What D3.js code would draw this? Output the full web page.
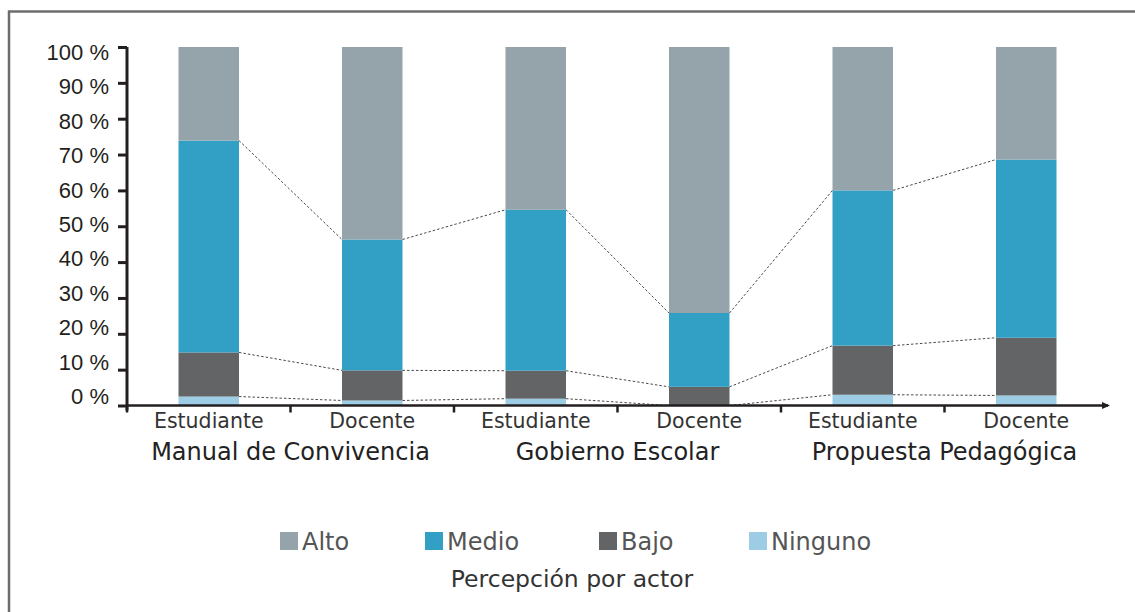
<!DOCTYPE html>
<html>
<head>
<meta charset="utf-8">
<script src="https://cdn.jsdelivr.net/npm/d3@7"></script>
<style>
  body { margin: 0; background: #fff; }
  svg { display: block; font-family: "DejaVu Sans", sans-serif; }
</style>
</head>
<body>
<svg width="1135" height="612"></svg>
<script>
"use strict";

// data (percent per segment, bottom to top)
var groups = ["Manual de Convivencia", "Gobierno Escolar", "Propuesta Pedagógica"];
var actors = ["Estudiante", "Docente"];
var series = ["Ninguno", "Bajo", "Medio", "Alto"];
var ninguno = [2.5, 1.4, 1.9, 0, 3.0, 2.8];
var bajo = [12.3, 8.4, 7.8, 5.2, 13.7, 16.1];
var medio = [59.1, 36.5, 44.9, 20.6, 43.3, 49.7];
var alto = [26.1, 53.7, 45.4, 74.2, 40.0, 31.4];
var yTicks = [0, 10, 20, 30, 40, 50, 60, 70, 80, 90, 100];
var legendOrder = ["Alto", "Medio", "Bajo", "Ninguno"];
var colors = { Alto: "#95a3aa", Medio: "#329fc4", Bajo: "#636466", Ninguno: "#9ccde4" };

var svg = d3.select("svg");

// frame
svg.append("path")
  .attr("d", "M9,620 V11.5 H1140")
  .attr("fill", "none")
  .attr("stroke", "#6d6d6d")
  .attr("stroke-width", 2.5);

var margin = { left: 127, right: 1108, top: 47, bottom: 405.5 };

var bars = [];
groups.forEach(function (g, gi) {
  actors.forEach(function (a, ai) {
    var i = gi * 2 + ai;
    bars.push({ key: g + "|" + a, group: g, actor: a,
      Ninguno: ninguno[i], Bajo: bajo[i], Medio: medio[i], Alto: alto[i] });
  });
});

var x = d3.scaleBand()
  .domain(bars.map(function (d) { return d.key; }))
  .range([margin.left, margin.right])
  .paddingInner(0.63)
  .paddingOuter(0.315);

var y = d3.scaleLinear()
  .domain([0, 100])
  .range([margin.bottom, margin.top]);

// the tick labels sit a little tighter than the ticks themselves
var yLabel = d3.scaleLinear()
  .domain([0, 100])
  .range([margin.bottom - 9.5, margin.top + 5]);

var stacked = d3.stack().keys(series)(bars);

// bars
svg.append("g")
  .selectAll("g")
  .data(stacked)
  .enter().append("g")
  .attr("fill", function (d) { return colors[d.key]; })
  .selectAll("rect")
  .data(function (d) { return d; })
  .enter().append("rect")
  .attr("x", function (d) { return x(d.data.key); })
  .attr("width", x.bandwidth())
  .attr("y", function (d) { return y(d[1]); })
  .attr("height", function (d) { return y(d[0]) - y(d[1]); });

// dashed series lines between bars
var links = [];
stacked.slice(0, 3).forEach(function (s) {
  for (var i = 0; i < s.length - 1; i++) {
    links.push({ a: s[i], b: s[i + 1] });
  }
});
svg.append("g")
  .selectAll("line")
  .data(links)
  .enter().append("line")
  .attr("x1", function (d) { return x(d.a.data.key) + x.bandwidth(); })
  .attr("x2", function (d) { return x(d.b.data.key); })
  .attr("y1", function (d) { return y(d.a[1]); })
  .attr("y2", function (d) { return y(d.b[1]); })
  .attr("stroke", "#4a4a4a")
  .attr("stroke-width", 1)
  .attr("stroke-dasharray", "2.5,2");

// y axis
var yAxis = svg.append("g")
  .attr("transform", "translate(" + margin.left + ",0)")
  .call(d3.axisLeft(y).tickValues(yTicks).tickSize(9).tickPadding(9)
    .tickFormat(function (d) { return d + " %"; }));
yAxis.select(".domain")
  .attr("d", "M0," + (margin.bottom + 5) + "V" + margin.top)
  .attr("stroke", "#231f20").attr("stroke-width", 3);
yAxis.selectAll(".tick line").attr("stroke", "#231f20").attr("stroke-width", 3);
yAxis.selectAll(".tick text")
  .attr("fill", "#231f20")
  .style("font-size", "22px")
  .attr("dy", function (d) { return (yLabel(d) - y(d)) + 7.5; });

// x axis with separators below
var xAxis = svg.append("g");
xAxis.append("line")
  .attr("x1", margin.left).attr("x2", margin.right)
  .attr("y1", margin.bottom).attr("y2", margin.bottom)
  .attr("stroke", "#231f20").attr("stroke-width", 2.5);
xAxis.append("path")
  .attr("d", "M" + (margin.right - 6) + "," + (margin.bottom - 3.5) + "L" + (margin.right + 2) + "," + margin.bottom + "L" + (margin.right - 6) + "," + (margin.bottom + 3.5) + "Z")
  .attr("fill", "#231f20");
var sepX = d3.range(bars.length).map(function (i) { return margin.left + i * x.step(); });
xAxis.selectAll(".sep")
  .data(sepX)
  .enter().append("line")
  .attr("x1", function (d) { return d; }).attr("x2", function (d) { return d; })
  .attr("y1", margin.bottom).attr("y2", margin.bottom + 7)
  .attr("stroke", "#231f20").attr("stroke-width", 2.5);

xAxis.selectAll(".cat")
  .data(bars)
  .enter().append("text")
  .attr("x", function (d) { return x(d.key) + x.bandwidth() / 2; })
  .attr("y", 428)
  .attr("text-anchor", "middle")
  .attr("fill", "#333")
  .style("font-size", "20.5px")
  .text(function (d) { return d.actor; });

xAxis.selectAll(".grp")
  .data(groups)
  .enter().append("text")
  .attr("x", function (d, i) { return margin.left + (i * 2 + 1) * x.step(); })
  .attr("y", 460)
  .attr("text-anchor", "middle")
  .attr("fill", "#222")
  .style("font-size", "24px")
  .text(function (d) { return d; });

// legend
var legendX = [280, 425, 599, 749];
var legend = svg.append("g")
  .selectAll("g")
  .data(legendOrder)
  .enter().append("g")
  .attr("transform", function (d, i) { return "translate(" + legendX[i] + ",532)"; });
legend.append("rect")
  .attr("width", 18).attr("height", 18)
  .attr("fill", function (d) { return colors[d]; });
legend.append("text")
  .attr("x", 22).attr("y", 18)
  .attr("fill", "#555")
  .style("font-size", "24px")
  .text(function (d) { return d; });

svg.append("text")
  .attr("x", 572).attr("y", 587)
  .attr("text-anchor", "middle")
  .attr("fill", "#333")
  .style("font-size", "23.5px")
  .text("Percepción por actor");
</script>
</body>
</html>
